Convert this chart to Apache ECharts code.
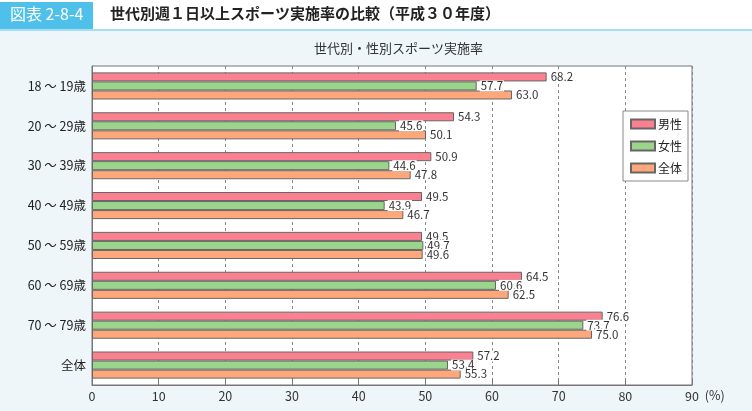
<!DOCTYPE html>
<html><head><meta charset="utf-8">
<script src="https://cdn.jsdelivr.net/npm/echarts@6/dist/echarts.min.js"></script>
<style>html,body{margin:0;padding:0;background:#eef6fa;}#c{width:752px;height:411px;}</style>
</head><body><div id="c"></div>
<script>
const categories = ['18 ～ 19歳','20 ～ 29歳','30 ～ 39歳','40 ～ 49歳','50 ～ 59歳','60 ～ 69歳','70 ～ 79歳','全体'];
const male   = [68.2, 54.3, 50.9, 49.5, 49.5, 64.5, 76.6, 57.2];
const female = [57.7, 45.6, 44.6, 43.9, 49.7, 60.6, 73.7, 53.4];
const total  = [63.0, 50.1, 47.8, 46.7, 49.6, 62.5, 75.0, 55.3];
const seriesNames = ['男性','女性','全体'];
const xTicks = [0,10,20,30,40,50,60,70,80,90];

const F = '"Noto Sans CJK JP","Noto Sans",sans-serif';
const colors = ['#fb8190','#9ad58b','#fea77b'];
const chart = echarts.init(document.getElementById('c'));
function mk(name, data, i){
  return {
    name, type:'bar', data, barGap:'0%', barCategoryGap:'32%',
    itemStyle:{color:colors[i], borderColor:'#666', borderWidth:1},
    label:{show:true, position:'right', distance:3, color:'#333', fontSize:11.5, fontFamily:F,
      formatter:p=>p.value.toFixed(1), backgroundColor:'#fff', padding:[0,1,0,1], lineHeight:11},
    emphasis:{disabled:true}
  };
}
chart.setOption({
  animation:false,
  backgroundColor:'#eef6fa',
  textStyle:{fontFamily:F},
  graphic:[
    {type:'rect', shape:{x:0,y:0,width:752,height:30}, style:{fill:'#fff'}, z:-1},
    {type:'rect', shape:{x:0,y:2,width:93,height:27}, style:{fill:'#4fc0ea'}},
    {type:'rect', shape:{x:0,y:29,width:752,height:2}, style:{fill:'#a8dcf2'}},
    {type:'text', left:10, top:6, style:{text:'図表 2-8-4', fill:'#fff', font:'16px '+F}},
    {type:'text', left:110, top:6, style:{text:'世代別週１日以上スポーツ実施率の比較（平成３０年度）', fill:'#222', font:'bold 15px '+F}},
    {type:'text', left:314, top:42, style:{text:'世代別・性別スポーツ実施率', fill:'#333', font:'13px '+F}}
  ],
  legend:{
    orient:'vertical', left:623, top:111, data:seriesNames,
    backgroundColor:'#fff', borderColor:'#888', borderWidth:1, borderRadius:0,
    padding:[7,6,7,7], itemWidth:24, itemHeight:9, itemGap:10, icon:'rect',
    textStyle:{fontSize:12, color:'#222', fontFamily:F, padding:[0,0,0,-2]},
    selectedMode:false
  },
  grid:{left:92, right:60, top:66, bottom:26, show:true, backgroundColor:'#fff', borderColor:'#777', borderWidth:1},
  xAxis:{
    type:'value', min:0, max:90, interval:10,
    name:'(%)', nameLocation:'end', nameGap:4,
    nameTextStyle:{color:'#333', fontSize:12.5, fontFamily:F, verticalAlign:'top', padding:[4,0,0,0]},
    axisLine:{show:true, lineStyle:{color:'#777'}},
    axisTick:{show:true, inside:true, length:6, lineStyle:{color:'#777'}},
    axisLabel:{color:'#333', fontSize:12.5, margin:5, formatter:v=>xTicks.includes(v)?String(v):''},
    splitLine:{show:true, lineStyle:{color:'#888', type:[3,3]}}
  },
  yAxis:{
    type:'category', data:categories, inverse:true,
    axisLine:{show:true, lineStyle:{color:'#777'}},
    axisTick:{show:false},
    axisLabel:{color:'#222', fontSize:12.5, margin:6}
  },
  series:[mk(seriesNames[0],male,0), mk(seriesNames[1],female,1), mk(seriesNames[2],total,2)]
});
</script></body></html>
